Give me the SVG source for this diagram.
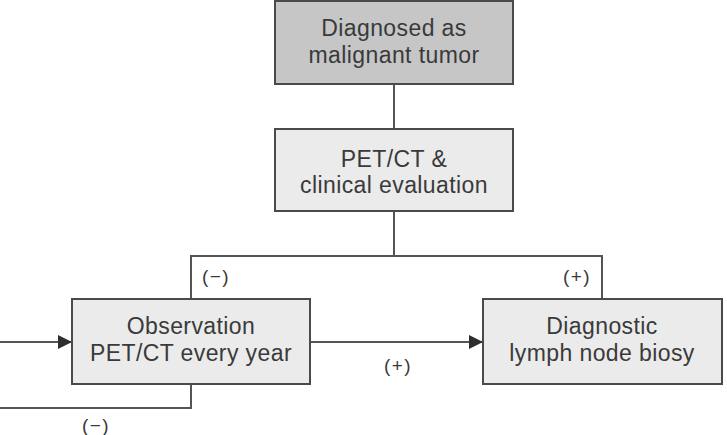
<svg xmlns="http://www.w3.org/2000/svg" width="727" height="435" viewBox="0 0 727 435">
  <defs>
    <style>
      .box { stroke: #4a4a4a; stroke-width: 2; }
      .dark { fill: #c6c6c6; }
      .light { fill: #ebebeb; }
      .txt { font-family: "Liberation Sans", Arial, sans-serif; font-size: 23px; letter-spacing: 0.4px; fill: #3a3a3a; text-anchor: middle; }
      .lbl { font-family: "Liberation Sans", Arial, sans-serif; font-size: 19px; letter-spacing: 1.5px; fill: #3a3a3a; text-anchor: middle; }
      .line { fill: none; stroke: #555555; stroke-width: 2; }
    </style>
    <marker id="arrow" markerWidth="14" markerHeight="14" refX="13" refY="7" orient="auto" markerUnits="userSpaceOnUse">
      <path d="M0,0 L14,7 L0,14 Z" fill="#2e2e2e"/>
    </marker>
  </defs>

  <!-- connectors -->
  <g id="connectors">
    <path class="line" d="M394,84 V129"/>
    <path class="line" d="M394,211 V256"/>
    <path class="line" d="M191,299 V256 H602 V299"/>
    <path class="line" d="M310,342 H482" marker-end="url(#arrow)"/>
    <path class="line" d="M191,384 V408 H0"/>
    <path class="line" d="M0,342 H71" marker-end="url(#arrow)"/>
    <text class="lbl" x="216" y="283">(−)</text>
    <text class="lbl" x="577" y="283">(+)</text>
    <text class="lbl" x="398" y="372">(+)</text>
    <text class="lbl" x="96" y="432">(−)</text>
  </g>

  <g id="diagnosed">
    <rect class="box dark" x="275" y="1" width="238" height="83"/>
    <text class="txt" x="394" y="36">Diagnosed as</text>
    <text class="txt" x="394" y="63">malignant tumor</text>
  </g>

  <g id="petct">
    <rect class="box light" x="275" y="129" width="238" height="82"/>
    <text class="txt" x="394" y="167">PET/CT &amp;</text>
    <text class="txt" x="394" y="193">clinical evaluation</text>
  </g>

  <g id="observation">
    <rect class="box light" x="72" y="299" width="238" height="85"/>
    <text class="txt" x="191" y="334">Observation</text>
    <text class="txt" x="191" y="361">PET/CT every year</text>
  </g>

  <g id="biopsy">
    <rect class="box light" x="483" y="299" width="239" height="85"/>
    <text class="txt" x="602" y="334">Diagnostic</text>
    <text class="txt" x="602" y="361">lymph node biosy</text>
  </g>
</svg>
